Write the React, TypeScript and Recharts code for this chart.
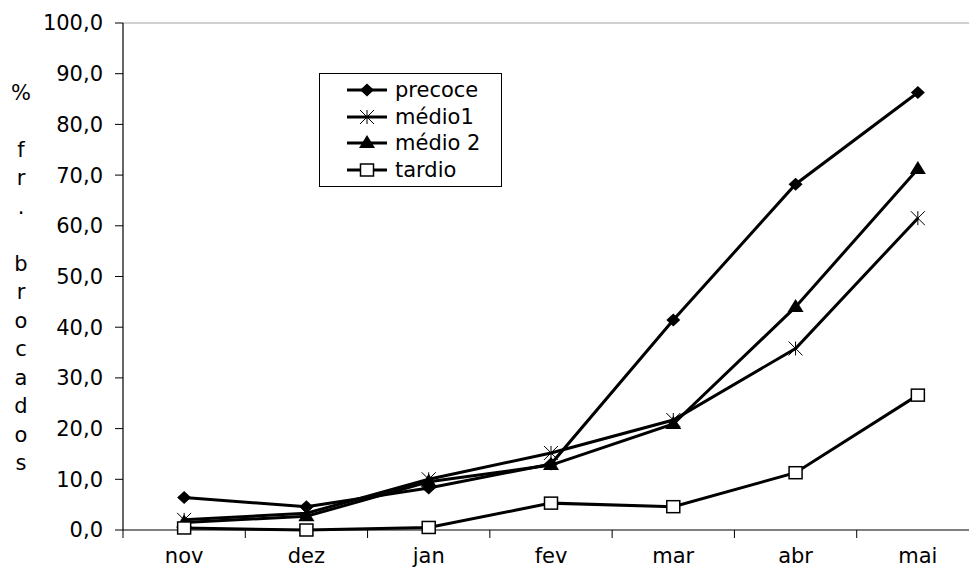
import { LineChart, Line, XAxis, YAxis, ReferenceLine, Legend } from 'recharts';

const months = ['nov', 'dez', 'jan', 'fev', 'mar', 'abr', 'mai'];
const precoce = [6.4, 4.6, 8.3, 13.0, 41.4, 68.2, 86.3];
const medio1 = [2.0, 3.3, 10.0, 15.2, 21.7, 35.8, 61.5];
const medio2 = [1.5, 2.7, 9.5, 12.8, 20.9, 44.0, 71.2];
const tardio = [0.4, 0.0, 0.5, 5.3, 4.6, 11.3, 26.6];
const yTicks = [0, 10, 20, 30, 40, 50, 60, 70, 80, 90, 100];
const axisLabel = ['%', '', 'f', 'r', '.', '', 'b', 'r', 'o', 'c', 'a', 'd', 'o', 's'];

const FONT = '"DejaVu Sans", sans-serif';

const data = months.map((m, i) => ({
  x: i + 0.5,
  month: m,
  precoce: precoce[i],
  medio1: medio1[i],
  medio2: medio2[i],
  tardio: tardio[i],
}));

// tick lines sit between the months, labels in the middle (Excel style)
const xTicks = months.flatMap((_, i) => [i, i + 0.5]).concat(months.length);

type Shape = 'diamond' | 'star' | 'triangle' | 'square';

function Marker({ cx, cy, shape }: { cx: number; cy: number; shape: Shape }) {
  if (shape === 'diamond') {
    return <polygon points={`${cx},${cy - 6.5} ${cx + 7},${cy} ${cx},${cy + 6.5} ${cx - 7},${cy}`} fill="#000" />;
  }
  if (shape === 'star') {
    const s = 7;
    return (
      <g stroke="#000" strokeWidth={1}>
        <line x1={cx - s} y1={cy - s} x2={cx + s} y2={cy + s} />
        <line x1={cx - s} y1={cy + s} x2={cx + s} y2={cy - s} />
        <line x1={cx} y1={cy - s} x2={cx} y2={cy + s} />
      </g>
    );
  }
  if (shape === 'triangle') {
    return <polygon points={`${cx},${cy - 8} ${cx + 8},${cy + 5} ${cx - 8},${cy + 5}`} fill="#000" />;
  }
  return <rect x={cx - 6.5} y={cy - 6} width={13} height={12} fill="#fff" stroke="#000" strokeWidth={1.5} />;
}

const series: { key: string; name: string; shape: Shape }[] = [
  { key: 'precoce', name: 'precoce', shape: 'diamond' },
  { key: 'medio1', name: 'médio1', shape: 'star' },
  { key: 'medio2', name: 'médio 2', shape: 'triangle' },
  { key: 'tardio', name: 'tardio', shape: 'square' },
];

function XTick(props: any) {
  const { x, y, payload } = props;
  if (Number.isInteger(payload.value)) {
    return <line x1={x} x2={x} y1={y} y2={y + 8} stroke="#000" strokeWidth={1} />;
  }
  return (
    <text x={x} y={y + 33} textAnchor="middle" fontFamily={FONT} fontSize={21} fill="#000">
      {months[Math.floor(payload.value)]}
    </text>
  );
}

function VerticalLabel() {
  return (
    <text x={21} y={99.5} textAnchor="middle" fontFamily={FONT} fontSize={21} fill="#000">
      {axisLabel.map((ch, i) => (
        <tspan key={i} x={21} dy={i === 0 ? 0 : 28.5}>
          {ch || '\u00a0'}
        </tspan>
      ))}
    </text>
  );
}

function LegendBox() {
  return (
    <div
      style={{
        border: '1px solid #000',
        background: '#fff',
        width: 181,
        height: 109,
        boxSizing: 'content-box',
        paddingTop: 3,
        fontFamily: FONT,
        fontSize: 21,
        color: '#000',
      }}
    >
      {series.map((s) => (
        <div key={s.key} style={{ display: 'flex', alignItems: 'center', height: 26.5 }}>
          <svg width={68} height={26} style={{ display: 'block' }}>
            <line x1={27} x2={67} y1={13} y2={13} stroke="#000" strokeWidth={3} />
            <Marker cx={47} cy={13} shape={s.shape} />
          </svg>
          <span style={{ marginLeft: 7, lineHeight: '26px' }}>{s.name}</span>
        </div>
      ))}
    </div>
  );
}

export default function App() {
  return (
    <div
      style={{
        position: 'absolute',
        left: 0,
        top: 0,
        width: 969,
        height: 569,
        overflow: 'hidden',
        background: '#fff',
      }}
    >
      <LineChart width={1000} height={569} data={data} margin={{ top: 23, right: 21, bottom: 0, left: 0 }}>
        <ReferenceLine y={100} stroke="#c0c0c0" strokeWidth={1.5} ifOverflow="extendDomain" />
        <XAxis
          dataKey="x"
          type="number"
          domain={[0, months.length]}
          ticks={xTicks}
          interval={0}
          tick={<XTick />}
          tickLine={false}
          tickSize={0}
          tickMargin={0}
          height={39}
          axisLine={{ stroke: '#000', strokeWidth: 1.2 }}
        />
        <YAxis
          domain={[0, 100]}
          ticks={yTicks}
          interval={0}
          width={123}
          tickSize={8}
          tickMargin={12}
          tickLine={{ stroke: '#000' }}
          axisLine={{ stroke: '#000', strokeWidth: 1.2 }}
          tickFormatter={(v: number) => v.toFixed(1).replace('.', ',')}
          tick={{ fill: '#000', fontFamily: FONT, fontSize: 21 }}
          label={<VerticalLabel />}
        />
        <Legend
          layout="vertical"
          align="center"
          verticalAlign="middle"
          content={<LegendBox />}
          wrapperStyle={{ left: 319, top: 73, width: 'auto' }}
        />
        {series.map((s) => (
          <Line
            key={s.key}
            dataKey={s.key}
            name={s.name}
            stroke="#000"
            strokeWidth={3}
            isAnimationActive={false}
            dot={(p: any) => <Marker key={`${s.key}-${p.index}`} cx={p.cx} cy={p.cy} shape={s.shape} />}
            activeDot={false}
          />
        ))}
      </LineChart>
    </div>
  );
}
